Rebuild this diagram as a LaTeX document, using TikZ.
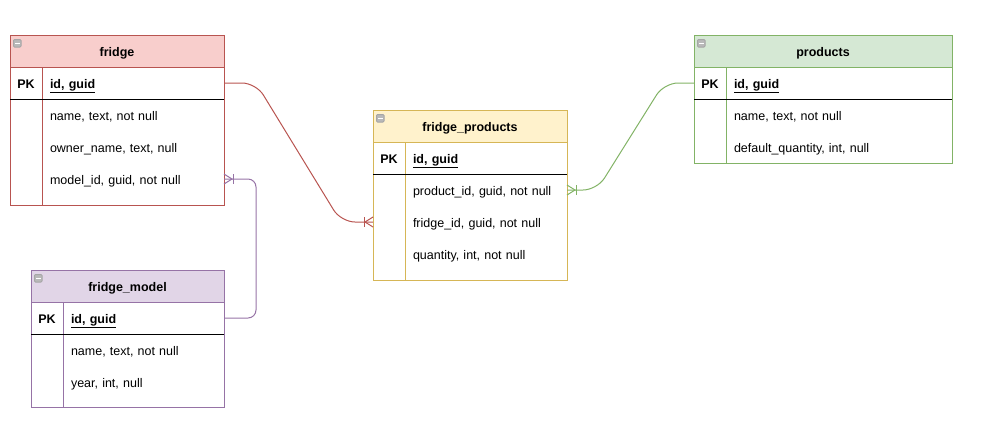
\documentclass[tikz,border=0pt]{standalone}
\usepackage{fontspec}
\setmainfont{Liberation Sans}
\usetikzlibrary{calc}
\definecolor{rfill}{HTML}{F8CECC}\definecolor{rline}{HTML}{B85450}
\definecolor{yfill}{HTML}{FFF2CC}\definecolor{yline}{HTML}{D6B656}
\definecolor{gfill}{HTML}{D5E8D4}\definecolor{gline}{HTML}{82B366}
\definecolor{pfill}{HTML}{E1D5E7}\definecolor{pline}{HTML}{9673A6}
\begin{document}
\begin{tikzpicture}[x=1pt,y=-1pt,line width=1pt,
  font=\fontsize{12.5}{14}\selectfont,
  tbl/.style={draw, fill=white, inner sep=0, outer sep=0, anchor=north west},
  hdr/.style={draw, inner sep=0, outer sep=0, minimum height=32, text height=10, text depth=0, anchor=north west, font=\fontsize{12.5}{14}\selectfont\bfseries},
  pkl/.style={inner sep=0, outer sep=0, minimum width=32, minimum height=32, text height=10, text depth=0, anchor=north west, font=\fontsize{12.5}{14}\selectfont\bfseries},
  fld/.style={inner xsep=8, inner ysep=0, outer sep=0, minimum height=32, text height=10, text depth=0, align=left, anchor=north west},
  pkf/.style={fld, font=\fontsize{12.5}{14}\selectfont\bfseries},
  icon/.style={draw=gray!70, fill=gray!55, rounded corners=1, inner sep=0, outer sep=0, minimum width=7.5, minimum height=7.5, anchor=north west,
    path picture={\draw[white, line width=1.3pt] ([xshift=1.5pt]path picture bounding box.west) -- ([xshift=-1.5pt]path picture bounding box.east);}},
  pkline/.style={black, line width=1pt},
  crow/.pic={\draw (0,-5) -- (8,0) -- (0,5); \draw (9,-5) -- (9,5);}
]
\useasboundingbox (0,0) rectangle (984,440);

% ---------- fridge ----------
\node[tbl, draw=rline, minimum width=214, minimum height=170] (fridge) at (10,35) {};
\node[hdr, draw=rline, fill=rfill, minimum width=214] (fridge-h) at (fridge.north west) {fridge};
\node[icon] (fridge-i) at ($(fridge-h.north west)+(3.5,4.5)$) {};
\node[pkl] (fridge-pkl) at (fridge-h.south west) {PK};
\node[pkf, text width=166] (fridge-pk) at (fridge-pkl.north east) {\underline{id, guid}};
\node[fld, text width=166] (fridge-f1) at (fridge-pk.south west) {name, text, not null};
\node[fld, text width=166] (fridge-f2) at (fridge-f1.south west) {owner\_name, text, null};
\node[fld, text width=166] (fridge-f3) at (fridge-f2.south west) {model\_id, guid, not null};
\draw[rline] (fridge-pkl.north east) -- (fridge-pkl.north east |- fridge.south);
\draw[pkline] (fridge-pkl.south west) -- (fridge-pk.south east);

% ---------- fridge_model ----------
\node[tbl, draw=pline, minimum width=193, minimum height=137] (fm) at (31,270) {};
\node[hdr, draw=pline, fill=pfill, minimum width=193] (fm-h) at (fm.north west) {fridge\_model};
\node[icon] (fm-i) at ($(fm-h.north west)+(3.5,4.5)$) {};
\node[pkl] (fm-pkl) at (fm-h.south west) {PK};
\node[pkf, text width=145] (fm-pk) at (fm-pkl.north east) {\underline{id, guid}};
\node[fld, text width=145] (fm-f1) at (fm-pk.south west) {name, text, not null};
\node[fld, text width=145] (fm-f2) at (fm-f1.south west) {year, int, null};
\draw[pline] (fm-pkl.north east) -- (fm-pkl.north east |- fm.south);
\draw[pkline] (fm-pkl.south west) -- (fm-pk.south east);

% ---------- fridge_products ----------
\node[tbl, draw=yline, minimum width=194, minimum height=170] (fp) at (373,110) {};
\node[hdr, draw=yline, fill=yfill, minimum width=194] (fp-h) at (fp.north west) {fridge\_products};
\node[icon] (fp-i) at ($(fp-h.north west)+(3.5,4.5)$) {};
\node[pkl] (fp-pkl) at (fp-h.south west) {PK};
\node[pkf, text width=146] (fp-pk) at (fp-pkl.north east) {\underline{id, guid}};
\node[fld, text width=146] (fp-f1) at (fp-pk.south west) {product\_id, guid, not null};
\node[fld, text width=146] (fp-f2) at (fp-f1.south west) {fridge\_id, guid, not null};
\node[fld, text width=146] (fp-f3) at (fp-f2.south west) {quantity, int, not null};
\draw[yline] (fp-pkl.north east) -- (fp-pkl.north east |- fp.south);
\draw[pkline] (fp-pkl.south west) -- (fp-pk.south east);

% ---------- products ----------
\node[tbl, draw=gline, minimum width=258, minimum height=128] (pr) at (694,35) {};
\node[hdr, draw=gline, fill=gfill, minimum width=258] (pr-h) at (pr.north west) {products};
\node[icon] (pr-i) at ($(pr-h.north west)+(3.5,4.5)$) {};
\node[pkl] (pr-pkl) at (pr-h.south west) {PK};
\node[pkf, text width=210] (pr-pk) at (pr-pkl.north east) {\underline{id, guid}};
\node[fld, text width=210] (pr-f1) at (pr-pk.south west) {name, text, not null};
\node[fld, text width=210] (pr-f2) at (pr-f1.south west) {default\_quantity, int, null};
\draw[gline] (pr-pkl.north east) -- (pr-pkl.north east |- pr.south);
\draw[pkline] (pr-pkl.south west) -- (pr-pk.south east);

% ---------- connectors ----------
\coordinate (fpL) at (fp.west |- fp-f2.west);
\coordinate (prL) at (pr.west |- pr-pk.west);
\draw[rline, rounded corners=14] (fridge-pk.east) -- ++(32,0) -- ($(fpL)+(-32,0)$) -- (fpL);
\pic[rline, xscale=-1] at (fpL) {crow};

\draw[pline, rounded corners=8] (fm-pk.east) -- ++(32,0) |- (fridge-f3.east);
\pic[pline] at (fridge-f3.east) {crow};

\draw[gline, rounded corners=14] (prL) -- ++(-30,0) -- ($(fp-f1.east)+(30,0)$) -- (fp-f1.east);
\pic[gline] at (fp-f1.east) {crow};
\end{tikzpicture}
\end{document}
